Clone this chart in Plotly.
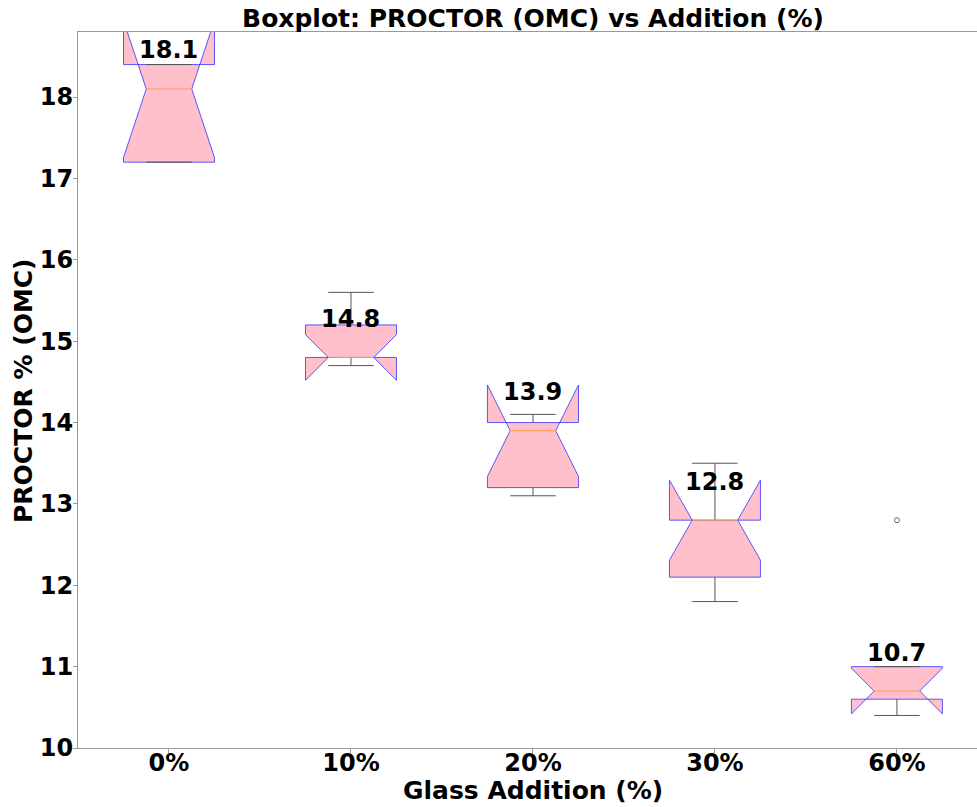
import plotly.graph_objects as go
import math

categories = ["0%", "10%", "20%", "30%", "60%"]
q1 = [17.2, 14.8, 13.2, 12.1, 10.6]
median = [18.1, 14.8, 13.9, 12.8, 10.7]
q3 = [18.4, 15.2, 14.0, 12.8, 11.0]
whisker_lo = [17.2, 14.7, 13.1, 11.8, 10.4]
whisker_hi = [18.4, 15.6, 14.1, 13.5, 11.0]
n_samples = [5, 5, 5, 5, 5]
outlier_group = ["60%"]
outlier_value = [12.8]

positions = list(range(1, len(categories) + 1))
half_w = 0.25      # half box width (matplotlib widths=0.5)
cap_half = 0.125   # half cap / notch indent width

FONT = "DejaVu Sans"
BOX_FILL = "#FFC0CB"
BOX_EDGE = "rgba(50,50,255,0.8)"
MED_COL = "#ff9a55"
WHISK_COL = "#555555"

fig = go.Figure()

for i, p in enumerate(positions):
    iqr = q3[i] - q1[i]
    notch = 1.57 * iqr / math.sqrt(n_samples[i])
    nlo = median[i] - notch
    nhi = median[i] + notch
    L, R = p - half_w, p + half_w
    cl, cr = p - cap_half, p + cap_half
    bx = [L, R, R, cr, R, R, L, L, cl, L, L]
    by = [q1[i], q1[i], nlo, median[i], nhi, q3[i], q3[i], nhi, median[i], nlo, q1[i]]
    fig.add_trace(go.Scatter(x=bx, y=by, mode="lines", fill="toself",
                             fillcolor=BOX_FILL, line=dict(color=BOX_EDGE, width=1),
                             hoverinfo="skip", showlegend=False))
    wx = [p, p, None, p, p, None, cl, cr, None, cl, cr]
    wy = [q1[i], whisker_lo[i], None, q3[i], whisker_hi[i], None,
          whisker_lo[i], whisker_lo[i], None, whisker_hi[i], whisker_hi[i]]
    fig.add_trace(go.Scatter(x=wx, y=wy, mode="lines",
                             line=dict(color=WHISK_COL, width=1),
                             hoverinfo="skip", showlegend=False))
    fig.add_trace(go.Scatter(x=[cl, cr], y=[median[i], median[i]], mode="lines",
                             line=dict(color=MED_COL, width=1),
                             hoverinfo="skip", showlegend=False))
    fig.add_annotation(x=p, y=median[i], text=f"{median[i]:.1f}", showarrow=False,
                       yanchor="middle", yshift=38.5,
                       font=dict(family=FONT, size=24, color="black", weight="bold"))

ox = [positions[categories.index(g)] for g in outlier_group]
fig.add_trace(go.Scatter(x=ox, y=outlier_value, mode="markers",
                         marker=dict(symbol="circle-open", size=5,
                                     color="#666666", line=dict(width=1)),
                         hoverinfo="skip", showlegend=False))

fig.add_annotation(x=0.506, y=-0.0587, xref="paper", yref="paper",
                   text="Glass Addition (%)", showarrow=False, yanchor="middle",
                   font=dict(family=FONT, size=25, color="black", weight="bold"))
fig.add_annotation(x=-0.0612, y=0.5, xref="paper", yref="paper",
                   text="PROCTOR % (OMC)", showarrow=False, textangle=-90,
                   xanchor="center", yanchor="middle",
                   font=dict(family=FONT, size=25, color="black", weight="bold"))

fig.update_layout(
    width=977, height=807, autosize=False,
    margin=dict(l=78, r=0, t=32, b=59, autoexpand=False),
    paper_bgcolor="white", plot_bgcolor="white",
    title=dict(text="Boxplot: PROCTOR (OMC) vs Addition (%)",
               x=533 / 977, xref="container", xanchor="center",
               y=1 - 18 / 807, yref="container", yanchor="middle",
               font=dict(family=FONT, size=25, color="black", weight="bold")),
    xaxis=dict(range=[0.5, 5.44], tickvals=positions, ticktext=categories,
               showgrid=False, zeroline=False, showline=True, mirror=True,
               linecolor="#999999", linewidth=1, ticks="outside", ticklen=4,
               tickcolor="#999999", ticklabelstandoff=-11,
               tickfont=dict(family=FONT, size=24, color="black", weight="bold")),
    yaxis=dict(range=[10, 18.8], tickvals=list(range(10, 19)),
               showgrid=False, zeroline=False, showline=True, mirror=False,
               linecolor="#999999", linewidth=1, ticks="outside", ticklen=4,
               tickcolor="#999999", ticklabelstandoff=-5,
               tickfont=dict(family=FONT, size=24, color="black", weight="bold")),
)

post = ("document.body.style.margin='0px';"
        "var gd=document.getElementById('{plot_id}');"
        "Plotly.relayout(gd,{width:977,height:807});")
fig.write_html("out.html", config={"responsive": False, "displayModeBar": False},
               post_script=post)
